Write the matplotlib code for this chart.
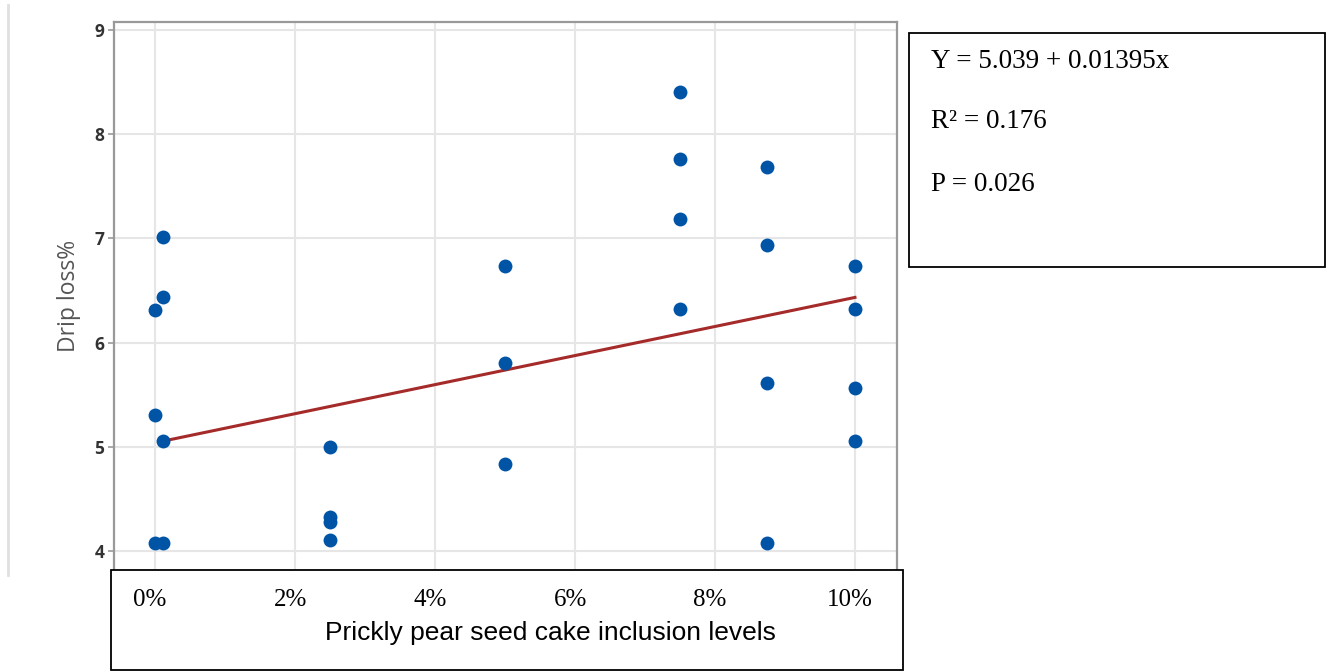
import numpy as np
import matplotlib
matplotlib.use("Agg")
import matplotlib.pyplot as plt
from matplotlib.patches import Rectangle
from matplotlib.lines import Line2D
from matplotlib.transforms import blended_transform_factory

# inclusion level (%) and drip loss (%) per sample
level = [0.0, 0.0, 0.0, 0.12, 0.12, 0.12, 0.12,
         2.5, 2.5, 2.5, 2.5,
         5.0, 5.0, 5.0,
         7.5, 7.5, 7.5, 7.5,
         8.75, 8.75, 8.75, 8.75,
         10.0, 10.0, 10.0, 10.0]
drip = [6.31, 5.31, 4.08, 7.01, 6.44, 5.06, 4.08,
        5.00, 4.33, 4.28, 4.11,
        6.74, 5.80, 4.84,
        8.41, 7.76, 7.19, 6.32,
        7.69, 6.94, 5.61, 4.08,
        6.74, 6.32, 5.56, 5.06]

intercept = 5.039
slope = 0.01395   # per g/kg, 1% = 10 g/kg
r2 = 0.176
p_val = 0.026

x_ticks = [0, 2, 4, 6, 8, 10]
x_labels = ["0%", "2%", "4%", "6%", "8%", "10%"]
y_ticks = [4, 5, 6, 7, 8, 9]

fig = plt.figure(figsize=(13.32, 6.71), dpi=100)
ax = fig.add_axes([0.0856, 0.1505, 0.5878, 0.8167])

ax.set_xlim(-0.586, 10.6)
ax.set_ylim(3.818, 9.077)
ax.set_xticks(x_ticks)
ax.set_yticks(y_ticks)
ax.set_xticklabels([])
ax.tick_params(axis="x", length=0)
ax.tick_params(axis="y", length=4, width=1.2, color="#999999", labelsize=12.5,
               labelcolor="#333333", pad=3)
for lab in ax.get_yticklabels():
    lab.set_fontweight("bold")
    lab.set_fontfamily("Open Sans")
ax.grid(True, color="#e6e6e6", linewidth=1.5)
ax.set_axisbelow(True)
for side in ["left", "top", "right"]:
    ax.spines[side].set_color("#999999")
    ax.spines[side].set_linewidth(1.6)
ax.spines["bottom"].set_visible(False)

ax.set_ylabel("Drip loss%", fontsize=16.5, color="#555555", family="Open Sans",
              labelpad=10)

# fitted line, x in g/kg inside the equation
xf = np.array([0.12, 10.0])
ax.plot(xf, intercept + slope * xf * 10, color="#a52a2a", linewidth=2.2, zorder=3)
ax.scatter(level, drip, s=100, color="#0054a6", zorder=4, linewidths=0)

# faint rule at the far left
fig.add_artist(Line2D([8 / 1332, 8 / 1332], [1 - 5 / 671, 1 - 575 / 671],
                      color="#e0e0e0", linewidth=2))

# x-axis box with tick labels and title
fig.add_artist(Rectangle((0.0833, 0.0015), 0.5946, 0.149, facecolor="white",
                         edgecolor="black", linewidth=1.3, zorder=5))
tr = blended_transform_factory(ax.transData, fig.transFigure)
for xv, lab in zip(x_ticks, x_labels):
    fig.text(xv - 0.07, 1 - 600 / 671, lab, transform=tr, ha="center", va="center",
             fontsize=18, family="Liberation Serif", zorder=6)
fig.text(550 / 1332, 1 - 633 / 671, "Prickly pear seed cake inclusion levels",
         ha="center", va="center", fontsize=19, family="Liberation Sans", zorder=6)

# statistics box
fig.add_artist(Rectangle((0.6824, 0.602), 0.3123, 0.3487, facecolor="white",
                         edgecolor="black", linewidth=1.3, zorder=5))
stats = [f"Y = {intercept} + {slope}x", f"R\u00b2 = {r2}", f"P = {p_val}"]
for yy, txt in zip([61, 122, 184], stats):
    fig.text(931 / 1332, 1 - yy / 671, txt, ha="left", va="center", fontsize=19.5,
             family="Liberation Serif", zorder=6)

fig.savefig("out.png", dpi=100)
